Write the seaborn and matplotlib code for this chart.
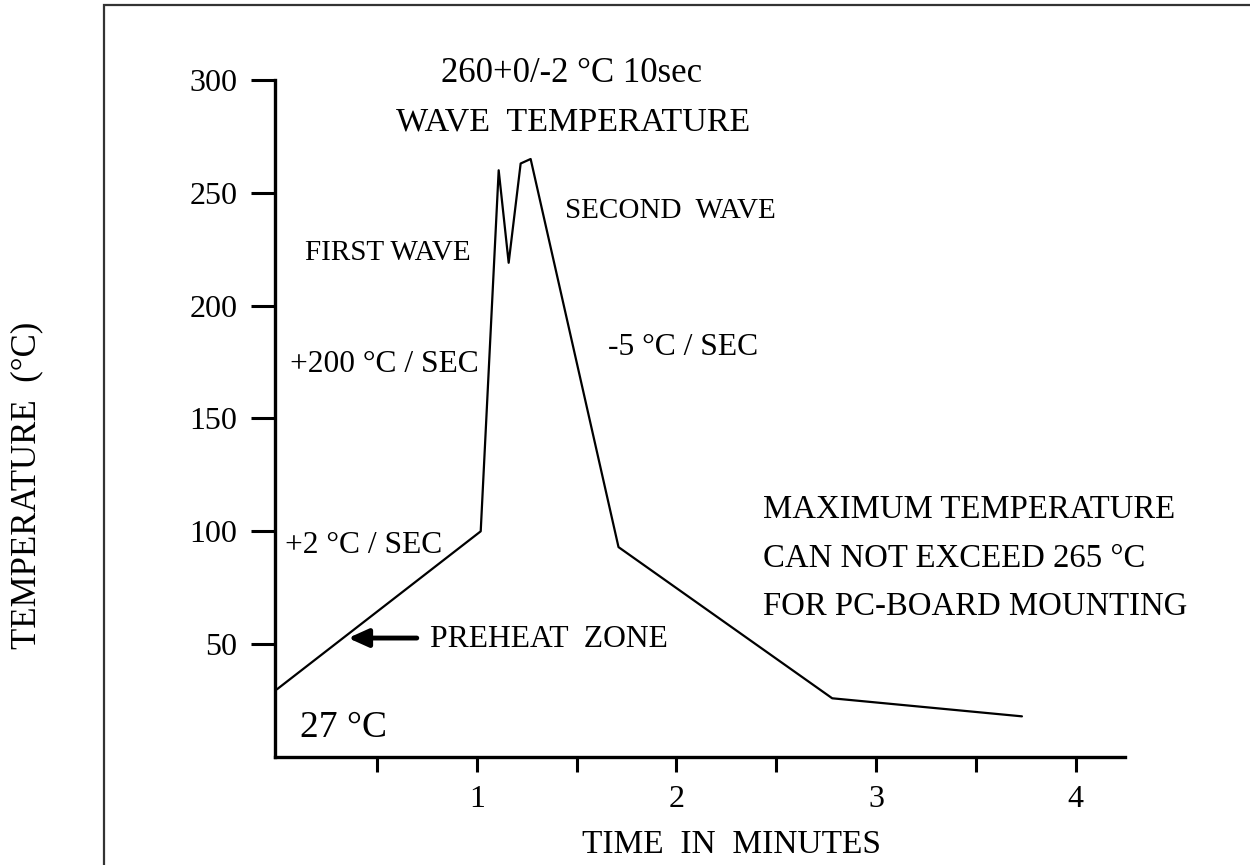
import pandas as pd
import matplotlib.pyplot as plt
from matplotlib.patches import Rectangle
import seaborn as sns

# Wave soldering profile
time_min = [0.0, 1.02, 1.11, 1.16, 1.22, 1.27, 1.71, 2.78, 3.73]
temp_c = [30, 100, 260, 219, 263, 265, 93, 26, 18]

x_ticks = [0.5, 1, 1.5, 2, 2.5, 3, 3.5, 4]
x_tick_labels = ['', '1', '', '2', '', '3', '', '4']
y_ticks = [50, 100, 150, 200, 250, 300]

df = pd.DataFrame({'time': time_min, 'temp': temp_c})

sns.set_theme(style='ticks')
plt.rcParams['font.family'] = ['Liberation Serif', 'DejaVu Serif']
plt.rcParams['text.color'] = 'black'

fig = plt.figure(figsize=(12.5, 8.65), dpi=100)
ax = fig.add_axes([0.22, 0.1249, 0.68, 0.7826])

sns.lineplot(data=df, x='time', y='temp', color='black', linewidth=1.6, ax=ax)

ax.set_xlim(-0.01, 4.246)
ax.set_ylim(0, 300)
ax.set_xticks(x_ticks)
ax.set_xticklabels(x_tick_labels)
ax.set_yticks(y_ticks)

for side in ['top', 'right']:
    ax.spines[side].set_visible(False)
for side in ['left', 'bottom']:
    ax.spines[side].set_linewidth(2.4)
    ax.spines[side].set_color('black')

ax.tick_params(axis='y', direction='out', length=17, width=2.2, pad=10,
               labelsize=23, colors='black')
ax.tick_params(axis='x', direction='out', length=11, width=2.2, pad=9,
               labelsize=23, colors='black')

ax.set_xlabel('TIME  IN  MINUTES', fontsize=24, color='black')
ax.set_ylabel('TEMPERATURE  (°C)', fontsize=25, color='black')
ax.xaxis.set_label_coords(0.5376, -0.1078)
ax.yaxis.set_label_coords(-0.2918, 0.4018)
ax.xaxis.label.set_va('top')
ax.yaxis.label.set_va('center')

# annotations
ax.text(1.477, 299.3, '260+0/-2 °C 10sec', ha='center', va='baseline', fontsize=25)
ax.text(1.482, 277.8, 'WAVE  TEMPERATURE', ha='center', va='baseline', fontsize=24.5)
ax.text(0.553, 220.2, 'FIRST WAVE', ha='center', va='baseline', fontsize=21)
ax.text(1.442, 238.8, 'SECOND  WAVE', ha='left', va='baseline', fontsize=21)
ax.text(0.536, 170.6, '+200 °C / SEC', ha='center', va='baseline', fontsize=22.7)
ax.text(1.657, 178.1, '-5 °C / SEC', ha='left', va='baseline', fontsize=22.8)
ax.text(0.04, 90.4, '+2 °C / SEC', ha='left', va='baseline', fontsize=22.7)
ax.text(0.766, 48.7, 'PREHEAT  ZONE', ha='left', va='baseline', fontsize=22.8)
ax.text(0.115, 8.9, '27 °C', ha='left', va='baseline', fontsize=27)
for yv, line in zip([105.9, 84.2, 62.9],
                    ['MAXIMUM TEMPERATURE', 'CAN NOT EXCEED 265 °C',
                     'FOR PC-BOARD MOUNTING']):
    ax.text(2.434, yv, line, ha='left', va='baseline', fontsize=23.6)

ax.annotate('', xy=(0.356, 52.7), xytext=(0.70, 52.7),
            arrowprops=dict(arrowstyle='-|>,head_length=1.0,head_width=0.45',
                            color='black', lw=3.5, shrinkA=0, shrinkB=0))

# outer frame running off the page
fig.add_artist(Rectangle((0.0832, -0.5), 2, 1.4942, transform=fig.transFigure,
                         fill=False, edgecolor='#333333', linewidth=1.6))

plt.savefig('out.png', dpi=100, facecolor='white')
